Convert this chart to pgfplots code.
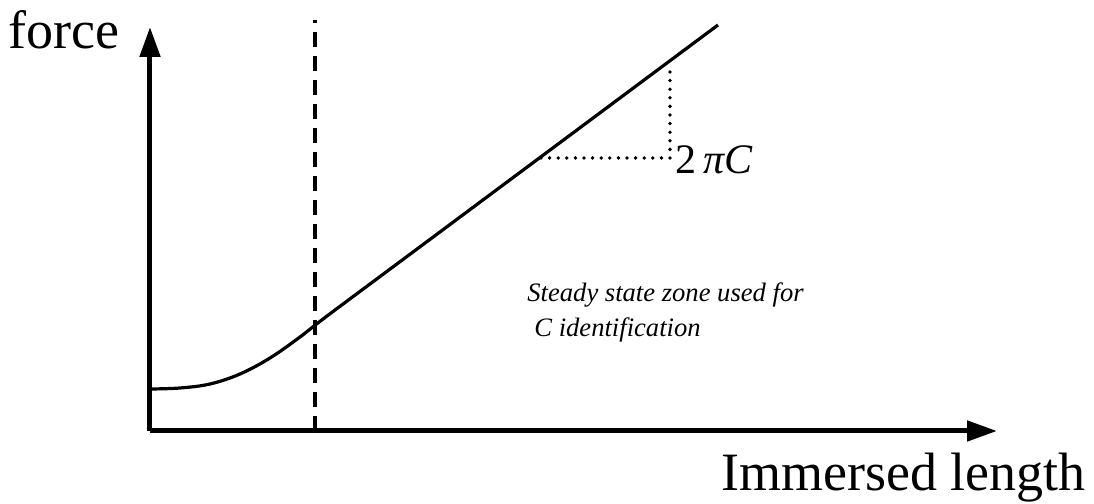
\documentclass[border=0pt]{standalone}
\usepackage{pgfplots}
\pgfplotsset{compat=1.18}
\usepackage{fontspec}
\setmainfont{Liberation Serif}
\usetikzlibrary{arrows.meta}
\begin{document}
\begin{tikzpicture}
\begin{axis}[
  x=0.5pt, y=0.5pt,
  xmin=150, xmax=997, ymin=73, ymax=477,
  axis lines=left,
  axis line style={line width=2.5pt, -{Triangle[length=15pt,width=10pt]}},
  xtick=\empty, ytick=\empty,
  clip=false,
]
% force curve (pixel-like coordinates)
\addplot[black, line width=1.6pt, smooth, tension=0.6] coordinates {
  (150,115) (180,116) (210,120) (240,130) (270,146) (300,167) (330,190.2) (450,279.5) (718,479)
};
% start of steady state zone
\addplot[black, line width=1.6pt, dash pattern=on 7.5pt off 4.5pt] coordinates {
  (315,73) (315,484)
};
% slope triangle
\addplot[black, line width=1.9pt, line cap=round, dash pattern=on 0pt off 4.3pt] coordinates {
  (541,346) (670,346) (670,436)
};
\node[anchor=west, inner sep=0pt, font=\fontsize{27}{30}\selectfont] at (axis cs:8,474) {force};
\node[anchor=east, inner sep=0pt, font=\fontsize{27}{30}\selectfont] at (axis cs:1086,26) {Immersed length};
\node[anchor=west, inner sep=0pt, font=\fontsize{21}{24}\selectfont] at (axis cs:675,344) {2\,\textit{πC}};
\node[anchor=west, inner sep=0pt, font=\fontsize{13.3}{16}\selectfont\itshape] at (axis cs:527,209) {Steady state zone used for};
\node[anchor=west, inner sep=0pt, font=\fontsize{13.3}{16}\selectfont\itshape] at (axis cs:534,174) {C identification};
\path (axis cs:0,0) (axis cs:1094,504);
\end{axis}
\end{tikzpicture}
\end{document}
